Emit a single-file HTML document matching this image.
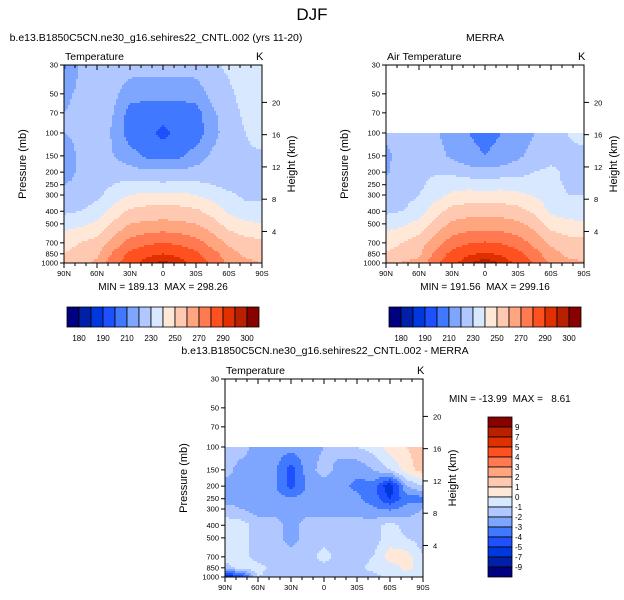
<!DOCTYPE html>
<html><head><meta charset="utf-8">
<style>
body{margin:0;background:#fff;}
svg{display:block;font-family:"Liberation Sans",Helvetica,sans-serif;}
text{white-space:pre;}
</style></head><body>
<svg id="c" width="624" height="600" viewBox="0 0 624 600">
<text x="312" y="20" font-size="17" text-anchor="middle">DJF</text>
</svg>
<script>
const lats=[90,75,60,45,30,15,0,-15,-30,-45,-60,-75,-90];
const presAll=[30,50,70,100,150,200,250,300,400,500,700,850,1000];
const presLow=[100,150,200,250,300,400,500,700,850,1000];
const tLevels=[180,185,190,200,210,220,230,240,250,260,270,280,290,295,300];
const tLabels=["180","190","210","230","250","270","290","300"];
const dLevels=[-9,-7,-5,-4,-3,-2,-1,0,1,2,3,4,5,7,9];
const xTickLabels=["90N","60N","30N","0","30S","60S","90S"];
const pTickLabels=[30,50,70,100,150,200,250,300,400,500,700,850,1000];
const hTickLabels=[4,8,12,16,20];
const colors=['#000080','#0020a8','#0038e0','#1e50ff','#4078ff','#7fa6ff','#b0c8ff','#d8e8ff','#ffe8d8','#ffc8b0','#ffa580','#ff7a50','#ff5020','#e03000','#b82000','#880000'];
const tModel=[
[208,222,225,225,225,225,225,225,225,228,232,236,238],
[218,222,224,223,214,213,213,213,214,224,228,234,236],
[220,222,224,220,206,205,205,205,206,218,226,232,235],
[220,222,224,219,204,203,197,203,204,216,226,230,236],
[215,222,224,220,214,208,207,208,214,222,226,228,228],
[216,222,225,226,224,222,222,222,224,226,226,226,226],
[220,222,226,230,233,233,232,233,232,230,227,226,226],
[222,224,228,234,240,242,242,242,240,236,232,228,228],
[228,230,234,244,252,254,254,254,252,246,238,234,234],
[236,238,242,252,260,262,263,262,260,254,246,242,240],
[246,250,254,264,274,278,280,278,274,266,258,254,252],
[250,254,258,272,282,288,290,288,282,274,264,258,256],
[252,256,262,276,287,293,297,293,287,278,268,262,260]];
const tMerra=[
[222,222,225,222,214,210,208,210,214,220,226,230,234],
[218,224,226,224,218,212,210,212,218,224,227,228,227],
[219,224,228,229,228,225,224,225,227,230,232,228,227],
[222,224,228,233,236,236,235,236,235,234,232,229,229],
[224,226,230,236,242,244,244,244,242,239,235,230,230],
[228,230,235,246,254,256,256,256,254,248,238,235,235],
[236,238,243,254,262,264,264,264,262,256,246,243,241],
[246,250,255,265,275,279,281,279,275,267,258,254,253],
[251,254,258,273,283,289,291,289,283,274,264,258,257],
[258,261,263,277,288,294,299,294,288,279,268,262,261]];
const diff=[
[-1.5,-1.5,-2.5,-2.5,-2.5,-2.5,-2,-1.5,-1,-0.5,0.5,1,1.5],
[-1.5,-2.5,-2.5,-2.8,-4.5,-2.5,-1.5,-2.5,-2.8,-2,-1,0.5,1.5],
[-2.5,-2.5,-2.5,-2.8,-4.5,-2.8,-2.5,-2.8,-3.2,-3.5,-6,-2,-1],
[-2.5,-2.5,-2.5,-2.6,-2.8,-2.6,-2.6,-2.6,-2.8,-3.5,-5,-3.5,-3.5],
[-1.5,-2,-2.5,-2.5,-2.5,-2.5,-2.5,-2.5,-2.5,-2.8,-3.2,-2.5,-2],
[-0.5,-0.5,-1.5,-1.5,-2.5,-1.5,-1.5,-1.5,-1.5,-1.5,-0.5,-1.5,-1.5],
[-0.5,-0.5,-1.5,-1.5,-2.5,-1.5,-1.5,-1.5,-1.5,-1.5,-0.5,-1,-1.5],
[-0.5,-0.5,-1.5,-1.5,-1.5,-1.5,-0.5,-1.5,-1.5,-1,0.5,0.5,-1],
[-1.5,-0.5,-0.5,-1.5,-1.5,-1.5,-1.5,-1.5,-1.5,-0.5,-0.5,0.3,-0.5],
[-6,-5,-1,-1.5,-1.5,-1.5,-1.5,-1.5,-1.5,-1.5,-0.5,-0.5,-0.5]];

const NS='http://www.w3.org/2000/svg';
const svg=document.getElementById('c');
function el(tag,attrs,parent,txt){const e=document.createElementNS(NS,tag);for(const k in attrs)e.setAttribute(k,attrs[k]);if(txt!==undefined)e.textContent=txt;(parent||svg).appendChild(e);return e;}
const LR=Math.log10(1000/30);
function colorFor(v,levels){let i=0;while(i<levels.length&&v>=levels[i])i++;return colors[i];}
function sample(grid,pres,lat,p){
  if(p<pres[0]-0.01)return null;
  const fx=(90-lat)/15;let i=Math.min(Math.floor(fx),lats.length-2);const tx=fx-i;
  const lp=Math.log(p);let j=0;while(j<pres.length-2&&Math.log(pres[j+1])<lp)j++;
  let ty=(lp-Math.log(pres[j]))/(Math.log(pres[j+1])-Math.log(pres[j]));ty=Math.max(0,Math.min(1,ty));
  const a=grid[j][i],b=grid[j][i+1],c=grid[j+1][i],d=grid[j+1][i+1];
  return (a*(1-tx)+b*tx)*(1-ty)+(c*(1-tx)+d*tx)*ty;
}
function panel(name,x0,y0,w,h,grid,pres,levels,title){
  const g=el('g',{},svg);
  
  
  const xS=lat=>x0+(90-lat)/180*w;
  const yS=p=>y0+Math.log10(p/30)/LR*h;
  const cg=el('g',{'shape-rendering':'crispEdges'},g);
  
  
  const s=2;
  for(let py=0;py<h;py+=s){
    const p=30*Math.pow(10,(py+s/2)/h*LR);
    for(let px=0;px<w;px+=s){
      const lat=90-(px+s/2)/w*180;
      const v=sample(grid,pres,lat,p);
      if(v===null)continue;
      const r=el('rect',{x:x0+px,y:y0+py,width:Math.min(s,w-px)+0.3,height:Math.min(s,h-py)+0.3,fill:colorFor(v,levels)},cg);
      
      
    }
  }
  el('rect',{x:x0,y:y0,width:w,height:h,fill:'none',stroke:'#000','stroke-width':1},g);
  const t1=el('text',{x:x0+1,y:y0-5,'font-size':10.5},g,title);
  
  
  const t2=el('text',{x:x0+w-6,y:y0-5,'font-size':11},g,'K');
  
  
  xTickLabels.forEach((lb,k)=>{const lat=90-30*k;const x=xS(lat);
    el('line',{x1:x,x2:x,y1:y0+h,y2:y0+h+5,stroke:'#000'},g);
    el('line',{x1:x,x2:x,y1:y0,y2:y0+5,stroke:'#000'},g);
    const t=el('text',{x:x,y:y0+h+13,'font-size':7.5,'text-anchor':'middle'},g,lb);
    
    });
  for(let lat=80;lat>-90;lat-=10){const x=xS(lat);el('line',{x1:x,x2:x,y1:y0+h,y2:y0+h+3,stroke:'#000'},g);el('line',{x1:x,x2:x,y1:y0,y2:y0+3,stroke:'#000'},g);}
  pTickLabels.forEach(p=>{const y=yS(p);
    el('line',{x1:x0-4,x2:x0,y1:y,y2:y,stroke:'#000'},g);
    const t=el('text',{x:x0-6,y:y+2.5,'font-size':7.5,'text-anchor':'end'},g,String(p));
    
    });
  hTickLabels.forEach(z=>{const y=yS(1013*Math.exp(-z/7));
    el('line',{x1:x0+w,x2:x0+w+5,y1:y,y2:y,stroke:'#000'},g);
    const t=el('text',{x:x0+w+10,y:y+3,'font-size':7.5},g,String(z));
    
    });
  const yl=el('text',{x:0,y:0,'font-size':11,'text-anchor':'middle',transform:`translate(${x0-38},${y0+h/2}) rotate(-90)`},g,'Pressure (mb)');
  
  
  const yr=el('text',{x:0,y:0,'font-size':11,'text-anchor':'middle',transform:`translate(${x0+w+33},${y0+h/2}) rotate(-90)`},g,'Height (km)');
  
  
}
function hbar(name,x0,y0){
  const g=el('g',{},svg);
  
  
  colors.forEach((c,i)=>{const r=el('rect',{x:x0+i*12,y:y0,width:12,height:20,fill:c,stroke:'#000','stroke-width':0.8},g);
    
    });
  tLabels.forEach((lb,k)=>{const t=el('text',{x:x0+12*(2*k+1),y:y0+34,'font-size':8,'text-anchor':'middle'},g,lb);
    
    });
}
function stat(x,y,txt,anchor){const t=el('text',{x:x,y:y,'font-size':10,'text-anchor':anchor},svg,txt);
  
  }
function ttl(x,y,txt){const t=el('text',{x:x,y:y,'font-size':10.5,'text-anchor':'middle'},svg,txt);
  
  }

ttl(156,41,'b.e13.B1850C5CN.ne30_g16.sehires22_CNTL.002 (yrs 11-20)');
ttl(485,41,'MERRA');
ttl(325,354,'b.e13.B1850C5CN.ne30_g16.sehires22_CNTL.002 - MERRA');
panel('model-panel',64,65,198,198,tModel,presAll,tLevels,'Temperature');
panel('merra-panel',386,65,198,198,tMerra,presLow,tLevels,'Air Temperature');
panel('diff-panel',225,379,198,198,diff,presLow,dLevels,'Temperature');
stat(163,290,'MIN = 189.13  MAX = 298.26','middle');
stat(485,290,'MIN = 191.56  MAX = 299.16','middle');
stat(449,402,'MIN = -13.99  MAX =   8.61','start');
hbar('model-colorbar',67,307);
hbar('merra-colorbar',389,307);
const vg=el('g',{},svg);


colors.slice().reverse().forEach((c,i)=>{const r=el('rect',{x:488,y:417+i*10,width:24,height:10,fill:c,stroke:'#000','stroke-width':0.8},vg);
  
  });
dLevels.slice().reverse().forEach((v,i)=>{const t=el('text',{x:515,y:430+i*10,'font-size':8},vg,String(v));
  
  });
</script>
</body></html>
